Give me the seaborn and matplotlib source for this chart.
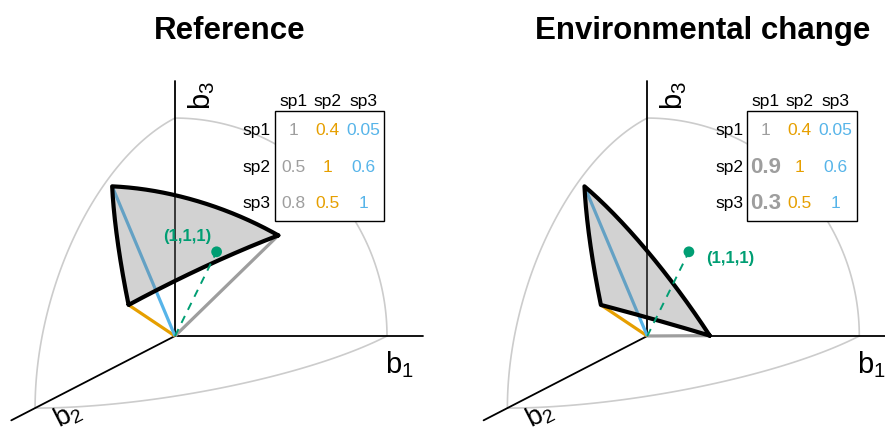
import numpy as np
import matplotlib
matplotlib.use("Agg")
import matplotlib.pyplot as plt
import seaborn as sns

sns.set_style("white")
plt.rcParams['font.family'] = ['Liberation Sans', 'DejaVu Sans']
plt.rcParams['mathtext.default'] = 'regular'
plt.rcParams['text.color'] = 'black'

# interaction matrices (rows = species, columns = species)
species = ["sp1", "sp2", "sp3"]
A_reference = [[1, 0.4, 0.05],
               [0.5, 1, 0.6],
               [0.8, 0.5, 1]]
A_changed = [[1, 0.4, 0.05],
             [0.9, 1, 0.6],
             [0.3, 0.5, 1]]
changed_cells = [(1, 0), (2, 0)]
titles = ["Reference", "Environmental change"]
centroid = [1, 1, 1]
centroid_label = "(1,1,1)"

col_colors = ["#9e9e9e", "#E69F00", "#56B4E9"]
green = "#009E73"
arc_grey = "#cccccc"

# oblique projection of 3D (b1, b2, b3) onto the page
E1 = np.array([1.0, 0.0])
E2 = np.array([-0.660, -0.340])
E3 = np.array([0.0, 1.028])
AXIS_LEN = 1.17


def proj(v):
    v = np.atleast_2d(v)
    return v[:, :1] * E1 + v[:, 1:2] * E2 + v[:, 2:3] * E3


def slerp(u, v, n=80):
    u = np.asarray(u, float) / np.linalg.norm(u)
    v = np.asarray(v, float) / np.linalg.norm(v)
    om = np.arccos(np.clip(np.dot(u, v), -1, 1))
    t = np.linspace(0, 1, n)[:, None]
    return (np.sin((1 - t) * om) * u + np.sin(t * om) * v) / np.sin(om)


def line(ax, pts, **kw):
    sns.lineplot(x=pts[:, 0], y=pts[:, 1], sort=False, estimator=None,
                 ax=ax, legend=False, **kw)


def draw_panel(ax, A, title, bold_cells, label_side):
    A = np.array(A, float)
    basis = np.eye(3)
    # sphere outline
    for i, j in [(0, 2), (0, 1), (1, 2)]:
        line(ax, proj(slerp(basis[i], basis[j])), color=arc_grey, lw=1.2, zorder=1)
    # axes
    for i in range(3):
        p = proj(np.vstack([np.zeros(3), basis[i] * AXIS_LEN]))
        line(ax, p, color="black", lw=1.3, zorder=2)
    # column vectors
    cols = [A[:, k] / np.linalg.norm(A[:, k]) for k in range(3)]
    for k in range(3):
        p = proj(np.vstack([np.zeros(3), cols[k]]))
        line(ax, p, color=col_colors[k], lw=2.3, zorder=3, solid_capstyle='butt')
    # feasibility domain on unit sphere
    edge = np.vstack([slerp(cols[0], cols[1]), slerp(cols[1], cols[2]),
                      slerp(cols[2], cols[0])])
    pe = proj(edge)
    ax.fill(pe[:, 0], pe[:, 1], color="#808080", alpha=0.35, lw=0, zorder=4)
    line(ax, pe, color="black", lw=3.0, zorder=5)
    # centroid direction
    c = np.array(centroid, float) / np.linalg.norm(centroid)
    pc = proj(np.vstack([np.zeros(3), c]))
    ax.plot(pc[:, 0], pc[:, 1], color=green, lw=1.4, ls=(0, (4, 3.5)), zorder=6)
    sns.scatterplot(x=pc[1:, 0], y=pc[1:, 1], color=green, s=60, ax=ax,
                    zorder=7, edgecolor='none')
    if label_side == "left":
        ax.text(pc[1, 0] - 0.14, pc[1, 1] + 0.075, centroid_label, color=green,
                fontsize=12, fontweight='bold', ha='center', va='center', zorder=8)
    else:
        ax.text(pc[1, 0] + 0.195, pc[1, 1] - 0.025, centroid_label, color=green,
                fontsize=12, fontweight='bold', ha='center', va='center', zorder=8)
    # axis labels
    ax.text(1.057, -0.13, "$b_1$", fontsize=21, ha='center', va='center')
    ax.text(0.125, 1.14, "$b_3$", fontsize=21, ha='center', va='center', rotation=90)
    ax.text(-0.505, -0.37, "$b_2$", fontsize=20, ha='center', va='center', rotation=27)
    # title
    ax.text(0.26, 1.445, title, fontsize=22.5, fontweight='bold', ha='center', va='center')
    # matrix table
    ax.add_patch(plt.Rectangle((0.472, 0.544), 0.515, 0.516, facecolor='white',
                               edgecolor='black', lw=1.0, zorder=9))
    col_x = [0.558, 0.717, 0.888]
    row_y = [0.973, 0.799, 0.631]
    for k, s in enumerate(species):
        ax.text(col_x[k], 1.113, s, fontsize=12.5, ha='center', va='center', zorder=10)
        ax.text(0.452, row_y[k], s, fontsize=12.5, ha='right', va='center', zorder=10)
    for i in range(3):
        for k in range(3):
            v = A[i, k]
            txt = f"{v:g}"
            if (i, k) in bold_cells:
                ax.text(col_x[k], row_y[i], txt, fontsize=16, fontweight='bold',
                        color=col_colors[k], ha='center', va='center', zorder=10)
            else:
                ax.text(col_x[k], row_y[i], txt, fontsize=12.5,
                        color=col_colors[k], ha='center', va='center', zorder=10)


fig = plt.figure(figsize=(8.85, 4.35), dpi=100)
ax1 = fig.add_axes([0, 0, 0.5, 1])
ax2 = fig.add_axes([0.5, 0, 0.5, 1])
ylim = ((337 - 435) / 212, 337 / 212)
ax1.set_xlim(-175 / 212, (442.5 - 175) / 212)
ax2.set_xlim((442.5 - 647.3) / 212, (885 - 647.3) / 212)
for ax in (ax1, ax2):
    ax.set_ylim(*ylim)
    ax.axis('off')

draw_panel(ax1, A_reference, titles[0], [], "left")
draw_panel(ax2, A_changed, titles[1], changed_cells, "right")

fig.savefig("out.png", dpi=100)
